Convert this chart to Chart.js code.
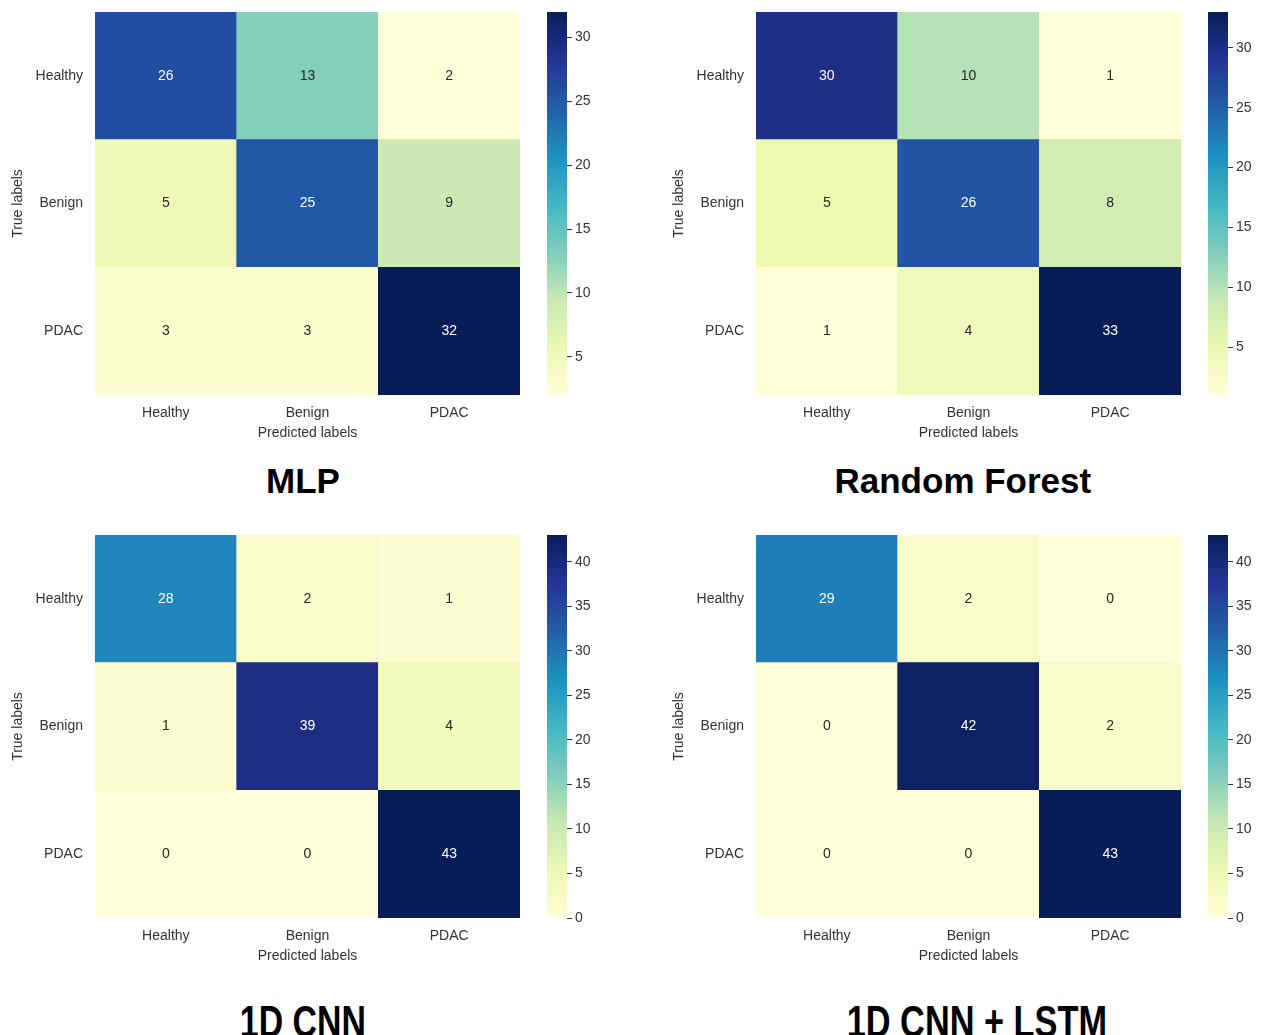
<!DOCTYPE html>
<html>
<head>
<meta charset="utf-8">
<script src="https://cdn.jsdelivr.net/npm/chart.js@4.4.1/dist/chart.umd.min.js"></script>
<style>
  html, body { margin: 0; padding: 0; background: #fff; overflow: hidden; }
  body { width: 1263px; height: 1035px; position: relative; font-family: "Liberation Sans", Arial, sans-serif; }
  .panel { position: absolute; width: 661px; height: 523px; }
  .heat { position: absolute; left: 0; top: 0; width: 530px; height: 450px; }
  .cbar { position: absolute; left: 530px; top: 0; width: 100px; height: 450px; }
  .title { position: absolute; font-weight: bold; color: #000; white-space: nowrap; transform-origin: center; }
</style>
</head>
<body>
<script>
// confusion matrices, rows = true label (top to bottom), cols = predicted
const categories = ['Healthy', 'Benign', 'PDAC'];
const mlpValues = [[26, 13, 2], [5, 25, 9], [3, 3, 32]];
const rfValues = [[30, 10, 1], [5, 26, 8], [1, 4, 33]];
const cnnValues = [[28, 2, 1], [1, 39, 4], [0, 0, 43]];
const cnnLstmValues = [[29, 2, 0], [0, 42, 2], [0, 0, 43]];
const modelTitles = ['MLP', 'Random Forest', '1D CNN', '1D CNN + LSTM'];
const ticks1to33 = [5, 10, 15, 20, 25, 30];
const ticks0to43 = [0, 5, 10, 15, 20, 25, 30, 35, 40];

// YlGnBu
const ylgnbu = ['#ffffd9', '#edf8b1', '#c7e9b4', '#7fcdbb', '#41b6c4', '#1d91c0', '#225ea8', '#253494', '#081d58'];
const textColor = '#333';
const font = { family: '"Liberation Sans", Arial, sans-serif', size: 14 };

function hexToRgb(h) {
  return [parseInt(h.slice(1, 3), 16), parseInt(h.slice(3, 5), 16), parseInt(h.slice(5, 7), 16)];
}
function cmap(t) {
  t = Math.max(0, Math.min(1, t));
  const pos = t * (ylgnbu.length - 1);
  const i = Math.min(Math.floor(pos), ylgnbu.length - 2);
  const f = pos - i;
  const a = hexToRgb(ylgnbu[i]), b = hexToRgb(ylgnbu[i + 1]);
  return a.map((v, k) => Math.round(v + (b[k] - v) * f));
}
function rgbStr(c) { return 'rgb(' + c.join(',') + ')'; }
function luminance(c) {
  const l = c.map(v => {
    v = v / 255;
    return v <= 0.03928 ? v / 12.92 : Math.pow((v + 0.055) / 1.055, 2.4);
  });
  return 0.2126 * l[0] + 0.7152 * l[1] + 0.0722 * l[2];
}

const panels = [
  { left: 0, top: 0, values: mlpValues, ticks: ticks1to33, title: modelTitles[0], tx: 303, ty: 463, size: 35, sx: 1 },
  { left: 661, top: 0, values: rfValues, ticks: ticks1to33, title: modelTitles[1], tx: 963, ty: 463, size: 35, sx: 1 },
  { left: 0, top: 523, values: cnnValues, ticks: ticks0to43, title: modelTitles[2], tx: 303, ty: 1000, size: 44, sx: 0.77 },
  { left: 661, top: 523, values: cnnLstmValues, ticks: ticks0to43, title: modelTitles[3], tx: 977, ty: 1000, size: 44, sx: 0.78 },
];

panels.forEach(p => {
  const div = document.createElement('div');
  div.className = 'panel';
  div.style.left = p.left + 'px';
  div.style.top = p.top + 'px';
  div.innerHTML = '<div class="heat"><canvas></canvas></div><div class="cbar"><canvas></canvas></div>';
  document.body.appendChild(div);

  const t = document.createElement('div');
  t.className = 'title';
  t.textContent = p.title;
  t.style.fontSize = p.size + 'px';
  t.style.lineHeight = p.size + 'px';
  t.style.top = p.ty + 'px';
  document.body.appendChild(t);
  t.style.left = (p.tx - t.offsetWidth / 2) + 'px';
  t.style.transform = 'scaleX(' + p.sx + ')';

  const all = p.values.flat();
  const vmin = Math.min(...all), vmax = Math.max(...all);
  const colorOf = v => cmap((v - vmin) / (vmax - vmin));

  // stacked bars, bottom row first
  const datasets = [2, 1, 0].map(r => ({
    label: categories[r],
    data: [1, 1, 1],
    backgroundColor: p.values[r].map(v => rgbStr(colorOf(v))),
    borderWidth: 0,
    barPercentage: 1,
    categoryPercentage: 1,
  }));

  const annot = {
    id: 'annot',
    afterDatasetsDraw(chart) {
      const ctx = chart.ctx;
      ctx.save();
      ctx.font = '14px ' + font.family;
      ctx.textAlign = 'center';
      ctx.textBaseline = 'middle';
      [2, 1, 0].forEach((r, d) => {
        chart.getDatasetMeta(d).data.forEach((bar, c) => {
          const v = p.values[r][c];
          ctx.fillStyle = luminance(colorOf(v)) < 0.408 ? '#fff' : '#262626';
          ctx.fillText(String(v), bar.x, (bar.y + bar.base) / 2);
        });
      });
      ctx.restore();
    }
  };

  const rowLabel = { 2.5: 'Healthy', 1.5: 'Benign', 0.5: 'PDAC' };

  new Chart(div.querySelector('.heat canvas'), {
    type: 'bar',
    data: { labels: categories, datasets: datasets },
    options: {
      responsive: true,
      maintainAspectRatio: false,
      animation: false,
      layout: { padding: { top: 12, right: 10, left: 0, bottom: 0 } },
      plugins: { legend: { display: false }, tooltip: { enabled: false } },
      scales: {
        x: {
          stacked: true,
          grid: { display: false, drawTicks: false },
          border: { display: false },
          ticks: { color: textColor, font: font, padding: 10 },
          title: { display: true, text: 'Predicted labels', color: textColor, font: font, padding: { top: 0, bottom: 8 } },
          afterFit: s => { s.height = 55; },
        },
        y: {
          stacked: true,
          min: 0,
          max: 3,
          grid: { display: false, drawTicks: false },
          border: { display: false },
          afterBuildTicks: s => { s.ticks = [0.5, 1.5, 2.5].map(v => ({ value: v })); },
          ticks: { color: textColor, font: font, padding: 12, callback: v => rowLabel[v] },
          title: { display: true, text: 'True labels', color: textColor, font: font, padding: { top: 10, bottom: 0 } },
          afterFit: s => { s.width = 95; s.paddingTop = 0; s.paddingBottom = 0; },
        },
      },
    },
    plugins: [annot],
  });

  new Chart(div.querySelector('.cbar canvas'), {
    type: 'bar',
    data: {
      labels: [''],
      datasets: [{
        data: [[vmin, vmax]],
        borderWidth: 0,
        barPercentage: 1,
        categoryPercentage: 1,
        backgroundColor: ctx => {
          const chart = ctx.chart;
          if (!chart.chartArea) return '#fff';
          const ys = chart.scales.y;
          const g = chart.ctx.createLinearGradient(0, ys.getPixelForValue(vmin), 0, ys.getPixelForValue(vmax));
          for (let i = 0; i <= 40; i++) g.addColorStop(i / 40, rgbStr(cmap(i / 40)));
          return g;
        },
      }],
    },
    options: {
      responsive: true,
      maintainAspectRatio: false,
      animation: false,
      layout: { padding: { top: 12, left: 17, right: 0, bottom: 55 } },
      plugins: { legend: { display: false }, tooltip: { enabled: false } },
      scales: {
        x: { display: false },
        y: {
          position: 'right',
          min: vmin,
          max: vmax,
          grid: { drawOnChartArea: false, drawTicks: true, tickLength: 5, color: textColor },
          border: { display: false },
          afterBuildTicks: s => { s.ticks = p.ticks.map(v => ({ value: v })); },
          ticks: { color: textColor, font: font, padding: 3 },
          afterFit: s => { s.width = 63; s.paddingTop = 0; s.paddingBottom = 0; },
        },
      },
    },
  });
});
</script>
</body>
</html>
